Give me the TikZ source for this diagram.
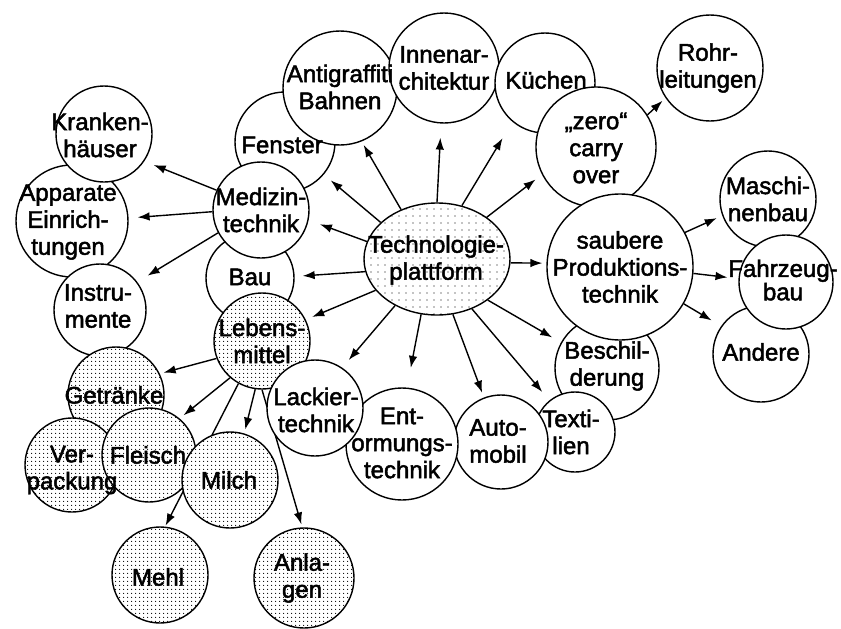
\documentclass[tikz,border=0pt]{standalone}
\usepackage{fontspec}
\setmainfont{Liberation Sans}
\newfontfamily\lblfont{Liberation Sans}[FakeBold=2]
\usetikzlibrary{shapes.geometric,arrows.meta,patterns.meta}
\pgfdeclarelayer{bg}
\pgfsetlayers{bg,main}
\begin{document}
\begin{tikzpicture}[x=1pt,y=-1pt,
  circ/.style={circle,draw,line width=1.4pt,fill=white,inner sep=0pt,minimum size=#1},
  dcirc/.style={circ=#1,preaction={fill=white},pattern={Dots[distance=4pt,radius=0.7pt]}},
  lbl/.style={align=center,inner sep=0pt,font=\lblfont\fontsize{24}{27}\selectfont},
  arr/.style={line width=1.4pt,-{Latex[length=12pt,width=8.5pt]}}]
\useasboundingbox (0,0) rectangle (841,629);
% shapes
\node[circ=100pt] (Fen) at (285,142) {};
\node[circ=114pt] (Ant) at (340,88) {};
\node[circ=110pt] (Inn) at (444,68) {};
\node[circ=100pt] (Kue) at (545,83) {};
\node[circ=120pt] (Zer) at (596,147) {};
\node[circ=106pt] (Roh) at (710,68) {};
\node[circ=104pt] (Bes) at (607,368) {};
\node[circ=146pt] (Sau) at (620,267) {};
\node[circ=96pt] (Mas) at (768,199) {};
\node[circ=96pt] (And) at (761,354) {};
\node[circ=94pt] (Fah) at (786,282) {};
\node[circ=80pt] (Tex) at (575,432) {};
\node[circ=94pt] (Aut) at (501,442) {};
\node[circ=112pt] (Ent) at (402,444) {};
\node[circ=88pt] (Bau) at (250,278) {};
\node[dcirc=96pt] (Leb) at (262,341) {};
\node[circ=96pt] (Lac) at (315,408) {};
\node[circ=96pt] (Med) at (261,210) {};
\node[circ=112pt] (App) at (72,221) {};
\node[circ=96pt] (Kra) at (104,134) {};
\node[circ=92pt] (Ins) at (100,310) {};
\node[dcirc=96pt] (Get) at (116,395) {};
\node[dcirc=94pt] (Ver) at (72,465) {};
\node[dcirc=94pt] (Fle) at (149,455) {};
\node[dcirc=96pt] (Mil) at (230,480) {};
\node[dcirc=96pt] (Meh) at (160,575) {};
\node[dcirc=100pt] (Anl) at (304,578) {};
\node[ellipse,draw,line width=1.4pt,inner sep=0pt,minimum width=146pt,minimum height=112pt,
  preaction={fill=white},pattern={Dots[distance=7pt,radius=0.55pt]}] (T) at (437,259) {};
% connectors
\begin{pgfonlayer}{bg}
\draw[arr,shorten >=12pt] (T.166) -- (Med.-12);
\draw[arr,shorten >=8pt] (T.190) -- (Bau.2);
\draw[arr,shorten >=7pt] (T.207) -- (Leb.26);
\draw[arr,shorten >=10pt] (T.228) -- (Lac.56);
\draw[arr,shorten >=20pt] (T.254) -- (Ent.85);
\draw[arr,shorten >=5pt] (T.286) -- (Aut.111);
\draw[arr,shorten >=11pt] (T.305) -- (Tex.129);
\draw[arr,shorten >=10pt] (T.321) -- (Bes.151);
\draw[arr,shorten >=4pt] (T.357) -- (Sau.177);
\draw[arr,shorten >=8pt] (T.40) -- (Zer.207);
\draw[arr,shorten >=19pt] (T.65) -- (Kue.230);
\draw[arr,shorten >=14pt] (T.90) -- (Inn.267);
\draw[arr,shorten >=4pt] (T.126) -- (Ant.-68);
\draw[arr,shorten >=9pt] (T.147) -- (Fen.-40);
\draw[arr,shorten >=10pt] (Med.156) -- (Kra.-34);
\draw[arr,shorten >=9pt] (Med.182) -- (App.3);
\draw[arr,shorten >=12pt] (Med.208) -- (Ins.37);
\draw[arr,shorten >=4pt] (Leb.201) -- (Get.26);
\draw[arr,shorten >=5pt] (Leb.229) -- (Fle.50);
\draw[arr,shorten >=1pt] (Leb.241) -- (Meh.84);
\draw[arr,shorten >=4pt] (Leb.262) -- (Mil.73);
\draw[arr,shorten >=3pt] (Leb.270) -- (Anl.92);
\draw[arr,shorten >=4pt] (Zer.32) -- (Roh.214);
\draw[arr,shorten >=6pt] (Sau.28) -- (Mas.200);
\draw[arr,shorten >=11pt] (Sau.355) -- (Fah.176);
\draw[arr,shorten >=11pt] (Sau.330) -- (And.145);
\end{pgfonlayer}
% texts
\node[lbl] (tFen) at (282,145) {Fenster};
\node[lbl] (tAnt) at (340,87) {Antigraffiti\\Bahnen};
\node[lbl] (tInn) at (444,68) {Innenar-\\chitektur};
\node[lbl] (tKue) at (546,80) {Küchen};
\node[lbl] (tZer) at (596,148) {„zero“\\carry\\over};
\node[lbl] (tRoh) at (708,68) {Rohr-\\leitungen};
\node[lbl] (tMas) at (768,199) {Maschi-\\nenbau};
\node[lbl,font=\lblfont\fontsize{24}{19}\selectfont] (tFah) at (783,280) {Fahrzeug-\\bau};
\node[lbl] (tAnd) at (761,352) {Andere};
\node[lbl] (tSau) at (620,267) {saubere\\Produktions-\\technik};
\node[lbl] (tBes) at (607,366) {Beschil-\\derung};
\node[lbl] (tTex) at (571,432) {Texti-\\lien};
\node[lbl] (tAut) at (498,441) {Auto-\\mobil};
\node[lbl] (tEnt) at (402,443) {Ent-\\ormungs-\\technik};
\node[lbl] (tLac) at (316,410) {Lackier-\\technik};
\node[lbl] (tT) at (436,260) {Technologie-\\plattform};
\node[lbl] (tMed) at (261,210) {Medizin-\\technik};
\node[lbl] (tKra) at (100,135) {Kranken-\\häuser};
\node[lbl] (tApp) at (68,222) {Apparate\\Einrich-\\tungen};
\node[lbl] (tIns) at (98,306) {Instru-\\mente};
\node[lbl] (tBau) at (250,277) {Bau};
\node[lbl] (tLeb) at (262,341) {Lebens-\\mittel};
\node[lbl] (tGet) at (114,395) {Getränke};
\node[lbl] (tVer) at (72,470) {Ver-\\packung};
\node[lbl] (tFle) at (148,455) {Fleisch};
\node[lbl] (tMil) at (229,480) {Milch};
\node[lbl] (tMeh) at (158,577) {Mehl};
\node[lbl] (tAnl) at (302,578) {Anla-\\gen};
\end{tikzpicture}
\end{document}
